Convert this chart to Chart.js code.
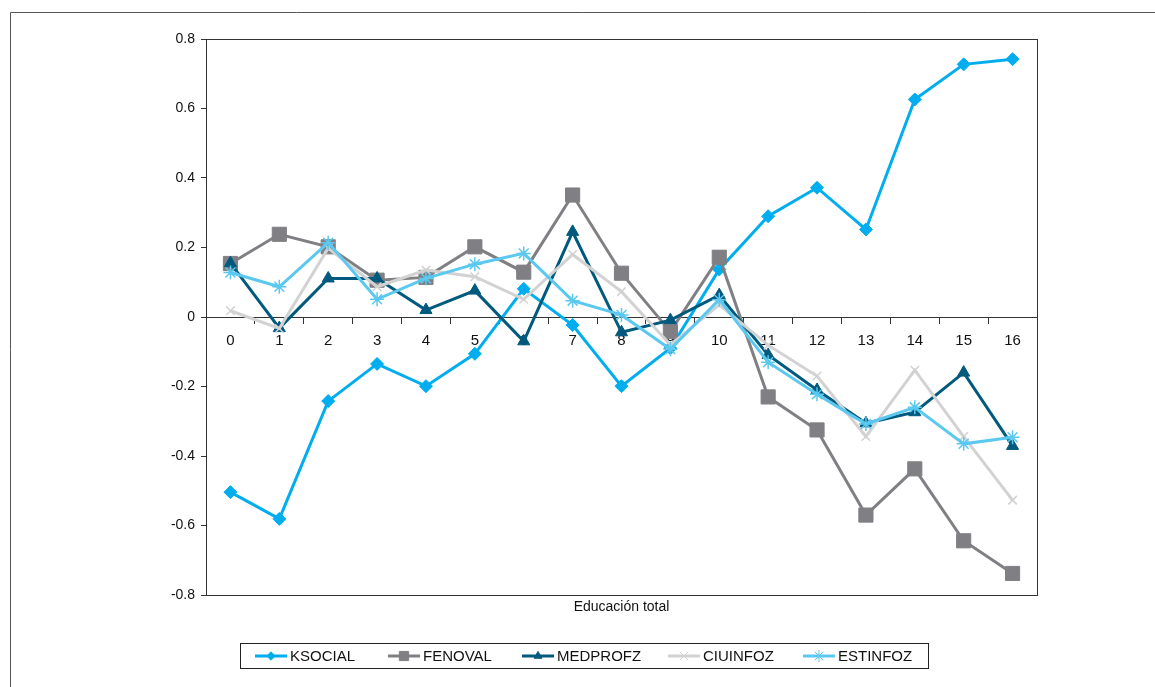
<!DOCTYPE html>
<html>
<head>
<meta charset="utf-8">
<script src="https://cdn.jsdelivr.net/npm/chart.js@4"></script>
<style>
  body { margin: 0; background: #fff; }
  #wrap { width: 1155px; height: 687px; position: relative; }
</style>
</head>
<body>
<div id="wrap"><canvas id="myChart" width="1155" height="687"></canvas></div>
<script>
const labels = ["0","1","2","3","4","5","6","7","8","9","10","11","12","13","14","15","16"];
const ksocial  = [-0.504, -0.581, -0.242, -0.135, -0.199, -0.106, 0.081, -0.023, -0.199, -0.09, 0.137, 0.29, 0.372, 0.252, 0.626, 0.727, 0.742];
const fenoval  = [0.154, 0.238, 0.202, 0.106, 0.114, 0.202, 0.129, 0.351, 0.126, -0.042, 0.172, -0.230, -0.325, -0.570, -0.437, -0.644, -0.738];
const medprofz = [0.155, -0.032, 0.111, 0.111, 0.020, 0.076, -0.07, 0.245, -0.044, -0.009, 0.063, -0.109, -0.210, -0.306, -0.274, -0.160, -0.371];
const ciuinfoz = [0.018, -0.033, 0.198, 0.087, 0.135, 0.116, 0.051, 0.180, 0.073, -0.08, 0.035, -0.081, -0.170, -0.344, -0.153, -0.344, -0.527];
const estinfoz = [0.128, 0.087, 0.214, 0.051, 0.111, 0.152, 0.183, 0.047, 0.006, -0.093, 0.05, -0.130, -0.222, -0.308, -0.260, -0.365, -0.346];
const yTicks = [-0.8, -0.6, -0.4, -0.2, 0, 0.2, 0.4, 0.6, 0.8];
const xTitle = "Educación total";

const FONT = "Arial, 'Liberation Sans', sans-serif";

function serie(label, data, color, style, radius, order) {
  return {
    label, data, order,
    borderColor: color,
    backgroundColor: color,
    borderWidth: 3,
    pointStyle: style,
    pointRadius: radius,
    pointHoverRadius: radius,
    pointBorderWidth: (style === "crossRot" || style === "star") ? 1.5 : 1,
    pointBackgroundColor: color,
    pointBorderColor: color,
    tension: 0
  };
}

const datasets = [
  serie("KSOCIAL", ksocial, "#00AEEF", "rectRot", 6.5, 5),
  serie("FENOVAL", fenoval, "#808084", "rect", 10, 4),
  serie("MEDPROFZ", medprofz, "#005A7D", "triangle", 7, 3),
  serie("CIUINFOZ", ciuinfoz, "#D2D2D2", "crossRot", 6, 2),
  serie("ESTINFOZ", estinfoz, "#5BC8F0", "star", 7, 1)
];

// borde exterior, marco del área, título del eje y leyenda
const extras = {
  id: "extras",
  beforeDraw(chart) {
    const ctx = chart.ctx;
    ctx.save();
    ctx.strokeStyle = "#555";
    ctx.lineWidth = 1;
    ctx.beginPath();
    ctx.moveTo(10.5, 687);
    ctx.lineTo(10.5, 12.5);
    ctx.lineTo(1155, 12.5);
    ctx.stroke();
    ctx.restore();
  },
  afterDraw(chart) {
    const ctx = chart.ctx;
    const a = chart.chartArea;
    ctx.save();
    ctx.strokeStyle = "#333";
    ctx.lineWidth = 1;
    ctx.strokeRect(Math.round(a.left) + 0.5, Math.round(a.top) + 0.5,
                   Math.round(a.right - a.left), Math.round(a.bottom - a.top));

    ctx.fillStyle = "#111";
    ctx.font = "14px " + FONT;
    ctx.textAlign = "center";
    ctx.textBaseline = "middle";
    ctx.fillText(xTitle, (a.left + a.right) / 2, 607);

    // leyenda
    ctx.strokeStyle = "#222";
    ctx.strokeRect(240.5, 643.5, 688, 25);
    const starts = [255, 388, 522, 668, 803];
    const cy = 656;
    ctx.font = "15px " + FONT;
    ctx.textAlign = "left";
    chart.data.datasets.forEach((ds, i) => {
      const x0 = starts[i];
      ctx.strokeStyle = ds.borderColor;
      ctx.lineWidth = 3;
      ctx.beginPath();
      ctx.moveTo(x0, cy);
      ctx.lineTo(x0 + 32, cy);
      ctx.stroke();
      ctx.fillStyle = ds.borderColor;
      ctx.strokeStyle = ds.borderColor;
      ctx.lineWidth = 1;
      Chart.helpers.drawPoint(ctx, {
        pointStyle: ds.pointStyle,
        radius: ds.pointStyle === "star" || ds.pointStyle === "crossRot" ? 6 : ds.pointRadius * 0.65,
        borderWidth: 1,
        rotation: 0
      }, x0 + 16, cy);
      ctx.fillStyle = "#111";
      ctx.fillText(ds.label, x0 + 35, cy + 1);
    });
    ctx.restore();
  }
};

const config = {
  type: "line",
  data: { labels, datasets },
  options: {
    responsive: false,
    animation: false,
    layout: { padding: { top: 39, bottom: 92, left: 0, right: 118 } },
    plugins: { legend: { display: false }, tooltip: { enabled: false } },
    scales: {
      x: {
        position: { y: 0 },
        offset: true,
        grid: { offset: true, drawOnChartArea: false, drawTicks: true, tickLength: 6, color: "#333" },
        border: { display: true, color: "#333", width: 1 },
        ticks: { color: "#111", font: { family: FONT, size: 15 }, padding: 9, maxRotation: 0, autoSkip: false }
      },
      y: {
        min: -0.8,
        max: 0.8,
        afterFit(scale) { scale.width = 206; },
        afterBuildTicks(scale) { scale.ticks = yTicks.map(v => ({ value: v })); },
        grid: { drawOnChartArea: false, drawTicks: true, tickLength: 5, color: "#333" },
        border: { display: true, color: "#333", width: 1 },
        ticks: {
          color: "#111",
          font: { family: FONT, size: 14 },
          padding: 6,
          callback: v => (Math.abs(v) < 1e-9 ? "0" : v.toFixed(1))
        }
      }
    }
  },
  plugins: [extras]
};

const myChart = document.getElementById("myChart");
new Chart(myChart, config);
</script>
</body>
</html>
